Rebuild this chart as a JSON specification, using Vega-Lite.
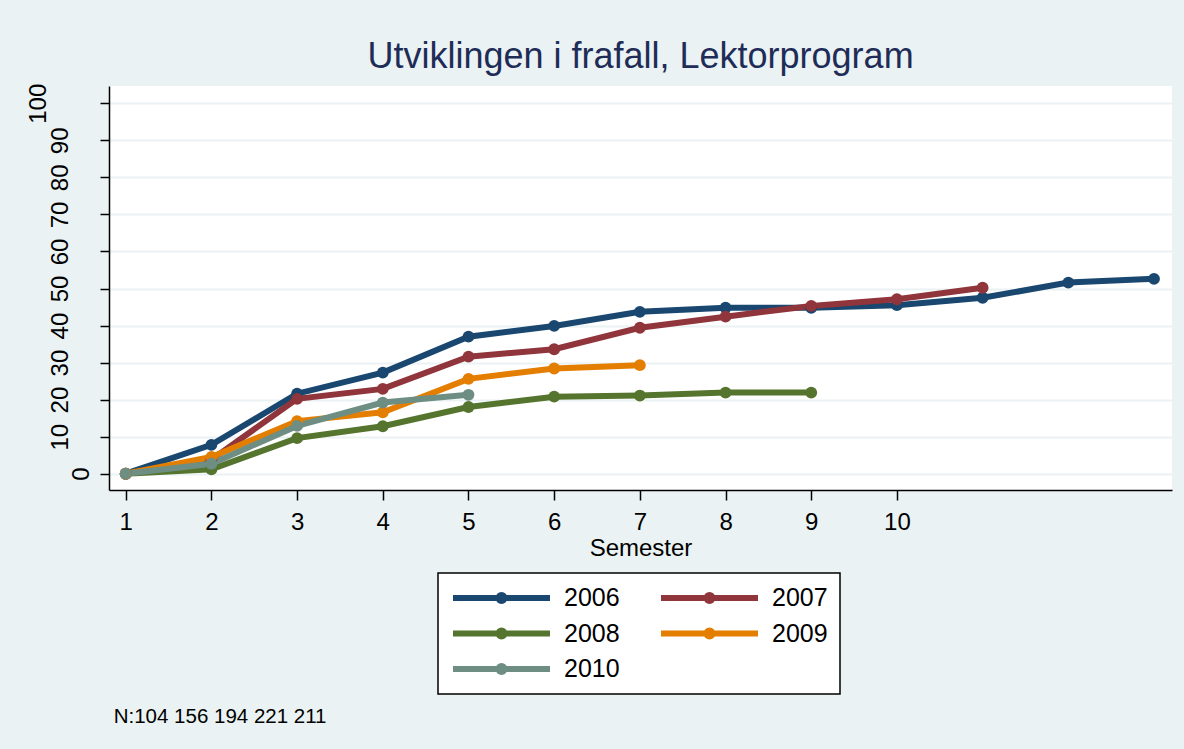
{
  "$schema": "https://vega.github.io/schema/vega-lite/v6.json",
  "width": 1063,
  "height": 404,
  "autosize": {"type": "none"},
  "padding": {"left": 109, "top": 86, "right": 12, "bottom": 259},
  "background": "#EAF2F3",
  "title": {
    "text": "Utviklingen i frafall, Lektorprogram",
    "fontSize": 36,
    "font": "Liberation Sans",
    "fontWeight": "normal",
    "color": "#1E2C57",
    "anchor": "middle",
    "frame": "group",
    "baseline": "alphabetic",
    "offset": -21
  },
  "config": {
    "view": {"fill": "white", "stroke": null},
    "font": "Liberation Sans",
    "axis": {
      "labelFont": "Liberation Sans",
      "titleFont": "Liberation Sans",
      "labelColor": "black",
      "titleColor": "black",
      "domainColor": "black",
      "domainWidth": 1.5,
      "tickColor": "black",
      "tickWidth": 1.5,
      "gridColor": "#EAF2F3",
      "gridWidth": 2,
      "labelFontSize": 24,
      "titleFontSize": 24,
      "titleFontWeight": "normal"
    },
    "legend": {
      "strokeWidth": 1.5
    }
  },
  "layer": [
    {
      "data": {
        "values": [
          {"year": "2006", "semester": 1, "value": 0},
          {"year": "2006", "semester": 2, "value": 7.8},
          {"year": "2006", "semester": 3, "value": 21.6},
          {"year": "2006", "semester": 4, "value": 27.3},
          {"year": "2006", "semester": 5, "value": 37.0},
          {"year": "2006", "semester": 6, "value": 39.9},
          {"year": "2006", "semester": 7, "value": 43.7},
          {"year": "2006", "semester": 8, "value": 44.8},
          {"year": "2006", "semester": 9, "value": 44.8},
          {"year": "2006", "semester": 10, "value": 45.5},
          {"year": "2006", "semester": 11, "value": 47.5},
          {"year": "2006", "semester": 12, "value": 51.6},
          {"year": "2006", "semester": 13, "value": 52.6},
          {"year": "2007", "semester": 1, "value": 0},
          {"year": "2007", "semester": 2, "value": 3.8},
          {"year": "2007", "semester": 3, "value": 20.2},
          {"year": "2007", "semester": 4, "value": 22.9},
          {"year": "2007", "semester": 5, "value": 31.6},
          {"year": "2007", "semester": 6, "value": 33.6},
          {"year": "2007", "semester": 7, "value": 39.4},
          {"year": "2007", "semester": 8, "value": 42.4},
          {"year": "2007", "semester": 9, "value": 45.3},
          {"year": "2007", "semester": 10, "value": 47.1},
          {"year": "2007", "semester": 11, "value": 50.2},
          {"year": "2008", "semester": 1, "value": 0},
          {"year": "2008", "semester": 2, "value": 1.2},
          {"year": "2008", "semester": 3, "value": 9.6},
          {"year": "2008", "semester": 4, "value": 12.8},
          {"year": "2008", "semester": 5, "value": 18.0},
          {"year": "2008", "semester": 6, "value": 20.8},
          {"year": "2008", "semester": 7, "value": 21.1},
          {"year": "2008", "semester": 8, "value": 21.9},
          {"year": "2008", "semester": 9, "value": 21.9},
          {"year": "2009", "semester": 1, "value": 0},
          {"year": "2009", "semester": 2, "value": 4.5},
          {"year": "2009", "semester": 3, "value": 14.2},
          {"year": "2009", "semester": 4, "value": 16.6},
          {"year": "2009", "semester": 5, "value": 25.6},
          {"year": "2009", "semester": 6, "value": 28.4},
          {"year": "2009", "semester": 7, "value": 29.3},
          {"year": "2010", "semester": 1, "value": 0},
          {"year": "2010", "semester": 2, "value": 2.7},
          {"year": "2010", "semester": 3, "value": 12.9},
          {"year": "2010", "semester": 4, "value": 19.2},
          {"year": "2010", "semester": 5, "value": 21.3}
        ]
      },
      "mark": {
        "type": "line",
        "strokeWidth": 6,
        "point": {"filled": true, "size": 140, "opacity": 1}
      },
      "encoding": {
        "x": {
          "field": "semester",
          "type": "quantitative",
          "scale": {"domain": [0.805, 13.21], "nice": false, "zero": false},
          "axis": {
            "values": [1, 2, 3, 4, 5, 6, 7, 8, 9, 10],
            "format": "d",
            "grid": false,
            "tickSize": 10,
            "labelPadding": 10,
            "labelBaseline": "top",
            "title": "Semester",
            "titlePadding": 2,
            "labelFlush": false,
            "labelOverlap": false
          }
        },
        "y": {
          "field": "value",
          "type": "quantitative",
          "scale": {"domain": [-4.4, 104.67], "nice": false, "zero": false},
          "axis": {
            "values": [0, 10, 20, 30, 40, 50, 60, 70, 80, 90, 100],
            "title": null,
            "grid": true,
            "tickSize": 9,
            "labelAngle": 270,
            "labelAlign": "center",
            "labelBaseline": "alphabetic",
            "labelPadding": {
              "condition": [
                {"test": "datum.value == 0", "value": 12},
                {"test": "datum.value == 100", "value": 55}
              ],
              "value": 33
            },
            "labelFlush": false,
            "labelOverlap": false
          }
        },
        "color": {
          "field": "year",
          "type": "nominal",
          "scale": {
            "domain": ["2006", "2007", "2008", "2009", "2010"],
            "range": ["#1A476F", "#90353B", "#55752F", "#E37E00", "#6E8E84"]
          },
          "legend": {
            "title": null,
            "orient": "none",
            "direction": "horizontal",
            "legendX": 329,
            "legendY": 487,
            "columns": 2,
            "columnPadding": 38,
            "rowPadding": 9.5,
            "padding": 12,
            "strokeColor": "black",
            "fillColor": "white",
            "labelFontSize": 25,
            "labelFont": "Liberation Sans",
            "labelColor": "black",
            "labelOffset": 11,
            "symbolType": "M-1,0H1M0.062,0A0.062,0.062,0,1,1,-0.062,0A0.062,0.062,0,1,1,0.062,0",
            "symbolSize": 9409,
            "symbolStrokeWidth": 6,
            "clipHeight": 26
          }
        }
      }
    },
    {
      "data": {"values": [{"note": "N:104 156 194 221 211"}]},
      "mark": {
        "type": "text",
        "align": "left",
        "baseline": "alphabetic",
        "fontSize": 20.5,
        "font": "Liberation Sans",
        "color": "black"
      },
      "encoding": {
        "x": {"datum": 0.86, "type": "quantitative"},
        "y": {"datum": -67.3, "type": "quantitative"},
        "text": {"field": "note", "type": "nominal"}
      }
    }
  ]
}
